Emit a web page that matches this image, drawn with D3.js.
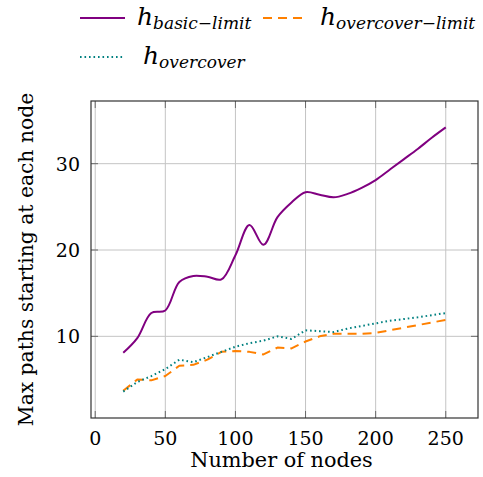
<!DOCTYPE html>
<html>
<head>
<meta charset="utf-8">
<script src="https://cdn.jsdelivr.net/npm/d3@7"></script>
<style>
  html, body { margin: 0; padding: 0; background: #fff; }
  svg { display: block; }
  text { font-family: "DejaVu Serif", serif; fill: #000; }
</style>
</head>
<body>
<svg id="chart" width="483" height="477"></svg>
<script>
// Number of nodes at which each heuristic was measured
const nodes = [20, 30, 40, 50, 60, 70, 80, 90, 100, 110, 120, 130, 140, 150,
               160, 170, 180, 190, 200, 210, 220, 230, 240, 250];

// Max paths starting at each node, per heuristic
const basicLimit = [8.1, 9.8, 12.7, 13.0, 16.3, 17.0, 16.9, 16.6, 19.4, 22.9, 20.6, 23.8,
                    25.5, 26.7, 26.4, 26.1, 26.5, 27.2, 28.1, 29.3, 30.5, 31.7, 33.0, 34.2];
const overcoverLimit = [3.7, 5.0, 4.9, 5.4, 6.6, 6.7, 7.3, 8.2, 8.3, 8.2, 7.9, 8.7,
                        8.6, 9.4, 10.0, 10.3, 10.3, 10.3, 10.4, 10.7, 11.0, 11.3, 11.6, 11.9];
const overcover = [3.6, 4.7, 5.4, 6.2, 7.3, 7.0, 7.6, 8.2, 8.8, 9.2, 9.5, 10.0,
                   9.7, 10.7, 10.6, 10.5, 10.9, 11.2, 11.5, 11.8, 12.0, 12.2, 12.45, 12.7];

const xTicks = [0, 50, 100, 150, 200, 250];
const yTicks = [10, 20, 30];

const xLabel = "Number of nodes";
const yLabel = "Max paths starting at each node";

const series = [
  { name: "basic", sub: "basic\u2212limit", values: basicLimit, color: "#800080", dash: null, smooth: true },
  { name: "ocl", sub: "overcover\u2212limit", values: overcoverLimit, color: "#ff8000", dash: "9,6", smooth: false },
  { name: "oc", sub: "overcover", values: overcover, color: "#008080", dash: "1.6,2.9", smooth: false }
];

const W = 483, H = 477;
const margin = { left: 91, right: 5, top: 101, bottom: 59 };
const svg = d3.select("#chart");

// Axis limits padded by 10% of the data range on each side
function padded(ext) {
  const p = (ext[1] - ext[0]) * 0.1;
  return [ext[0] - p, ext[1] + p];
}
const allY = basicLimit.concat(overcoverLimit, overcover);
const x = d3.scaleLinear().domain(padded(d3.extent(nodes))).range([margin.left, W - margin.right]);
const y = d3.scaleLinear().domain(padded(d3.extent(allY))).range([H - margin.bottom, margin.top]);

const x0 = margin.left, x1 = W - margin.right, y0 = H - margin.bottom, y1 = margin.top;
const tickLen = 7;

// Grid
const grid = svg.append("g").attr("stroke", "#c4c4c4").attr("stroke-width", 1);
grid.selectAll(".gx").data(xTicks).join("line")
  .attr("x1", d => x(d)).attr("x2", d => x(d)).attr("y1", y0).attr("y2", y1);
grid.selectAll(".gy").data(yTicks).join("line")
  .attr("y1", d => y(d)).attr("y2", d => y(d)).attr("x1", x0).attr("x2", x1);

// Inward ticks on all four sides
const ticks = svg.append("g").attr("stroke", "#6a6a6a").attr("stroke-width", 1);
xTicks.forEach(t => {
  ticks.append("line").attr("x1", x(t)).attr("x2", x(t)).attr("y1", y0).attr("y2", y0 - tickLen);
  ticks.append("line").attr("x1", x(t)).attr("x2", x(t)).attr("y1", y1).attr("y2", y1 + tickLen);
});
yTicks.forEach(t => {
  ticks.append("line").attr("y1", y(t)).attr("y2", y(t)).attr("x1", x0).attr("x2", x0 + tickLen);
  ticks.append("line").attr("y1", y(t)).attr("y2", y(t)).attr("x1", x1).attr("x2", x1 - tickLen);
});

// Series lines
const plot = svg.append("g");
series.forEach(s => {
  const line = d3.line()
    .x((d, i) => x(nodes[i]))
    .y(d => y(d))
    .curve(s.smooth ? d3.curveCatmullRom.alpha(0.5) : d3.curveLinear);
  plot.append("path")
    .datum(s.values)
    .attr("d", line)
    .attr("fill", "none")
    .attr("stroke", s.color)
    .attr("stroke-width", 2)
    .attr("stroke-linejoin", "round")
    .attr("stroke-dasharray", s.dash);
});

// Frame
svg.append("rect")
  .attr("x", x0).attr("y", y1).attr("width", x1 - x0).attr("height", y0 - y1)
  .attr("fill", "none").attr("stroke", "#333").attr("stroke-width", 1.2);

// Tick labels
svg.append("g").selectAll("text").data(xTicks).join("text")
  .attr("x", d => x(d)).attr("y", 445)
  .attr("text-anchor", "middle").attr("font-size", 19)
  .text(d => d);
svg.append("g").selectAll("text").data(yTicks).join("text")
  .attr("x", 80).attr("y", d => y(d) + 7)
  .attr("text-anchor", "end").attr("font-size", 19)
  .text(d => d);

// Axis titles
svg.append("text")
  .attr("x", (x0 + x1) / 2 - 3).attr("y", 467)
  .attr("text-anchor", "middle").attr("font-size", 20.8)
  .text(xLabel);
svg.append("text")
  .attr("transform", `translate(33,${(y0 + y1) / 2}) rotate(-90)`)
  .attr("text-anchor", "middle").attr("font-size", 20.3)
  .text(yLabel);

// Legend
const legendPos = [
  { lx: 80, tx: 137, y: 18 },
  { lx: 263, tx: 320, y: 18 },
  { lx: 80, tx: 143, y: 57 }
];
series.forEach((s, i) => {
  const p = legendPos[i];
  const g = svg.append("g");
  g.append("line")
    .attr("x1", p.lx).attr("x2", p.lx + 45).attr("y1", p.y).attr("y2", p.y)
    .attr("stroke", s.color).attr("stroke-width", 2)
    .attr("stroke-dasharray", s.dash);
  const t = g.append("text")
    .attr("x", p.tx).attr("y", p.y + 7)
    .attr("font-family", "'Liberation Serif', serif")
    .attr("font-style", "italic");
  t.append("tspan").attr("font-size", 25).text("h");
  t.append("tspan").attr("font-size", 17).attr("dy", 4).text(s.sub);
});
</script>
</body>
</html>
